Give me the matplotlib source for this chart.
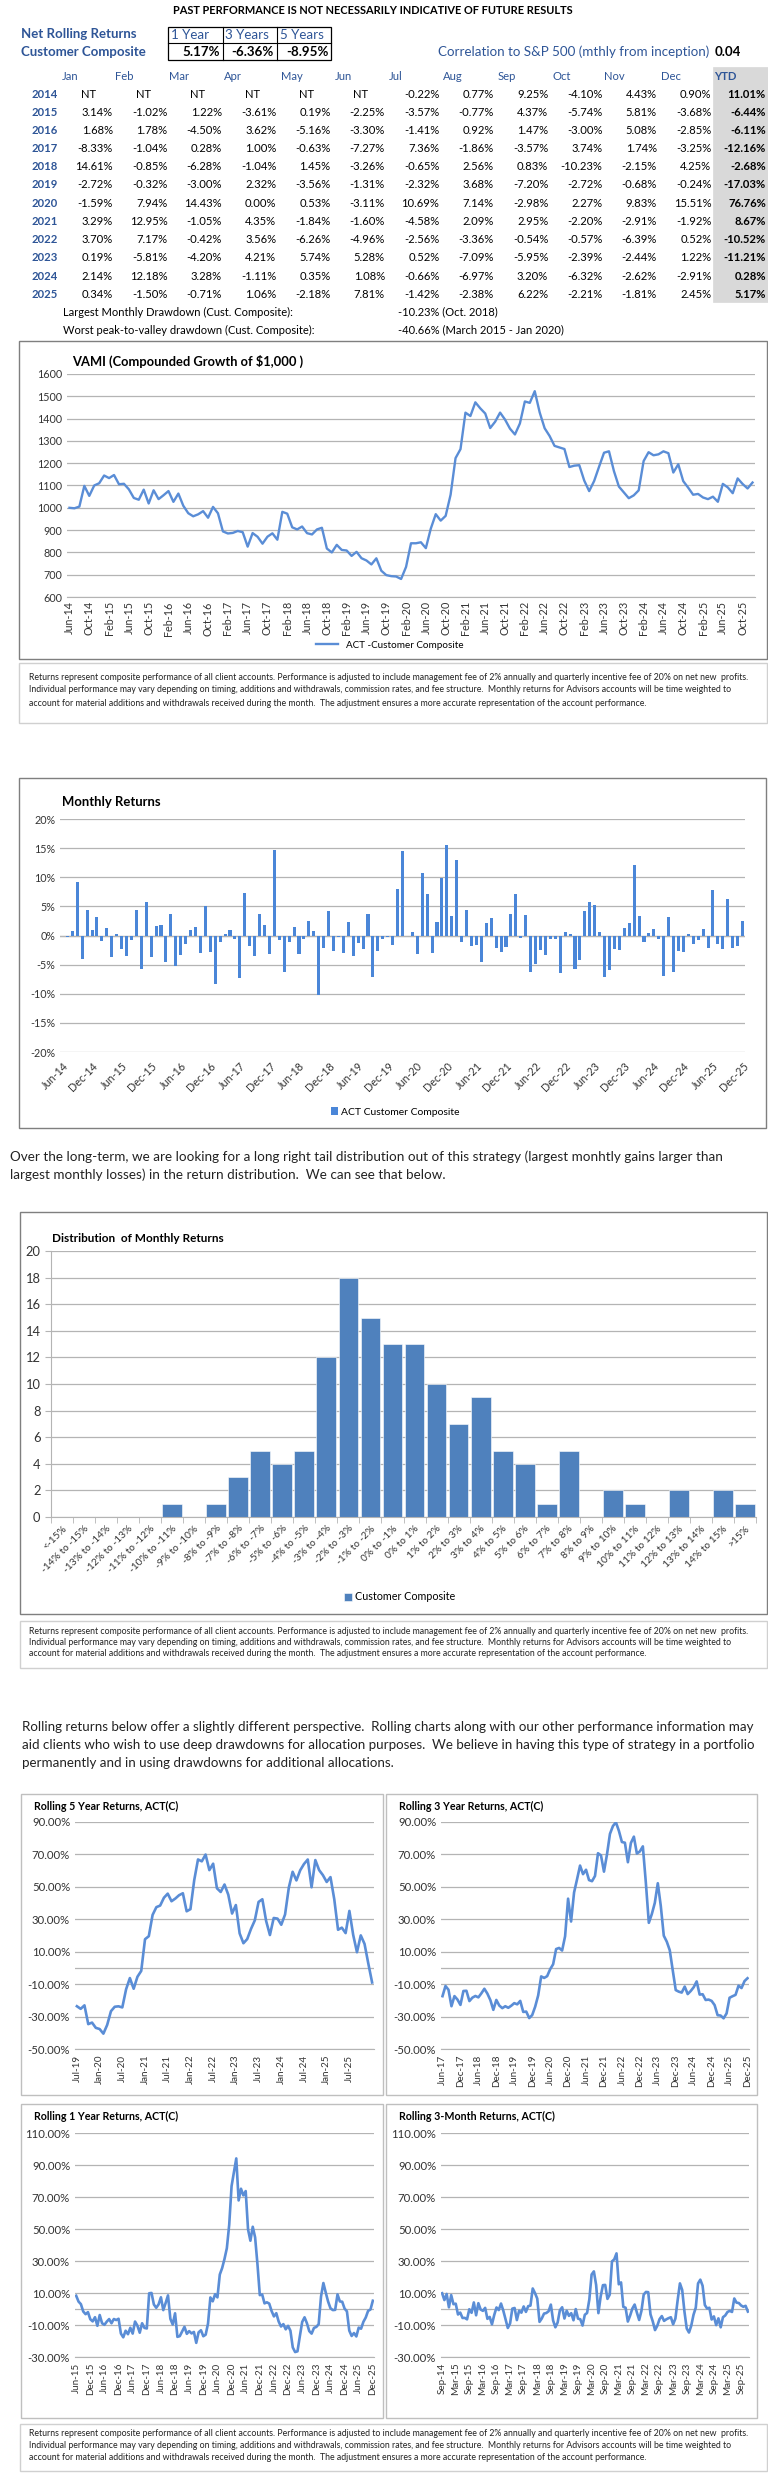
import numpy as np
import pandas as pd
import matplotlib
matplotlib.use("Agg")
import matplotlib.pyplot as plt
from matplotlib.patches import Rectangle
from matplotlib.lines import Line2D

W, H = 768, 2475
plt.rcParams['font.family'] = ['Lato', 'DejaVu Sans']

TXT_BLUE = '#2E5597'
LINE_BLUE = '#5A8DD6'
BAR_BLUE = '#4A86D8'
HIST_BLUE = '#4F81BD'
GRID = '#B4B4B4'
BOX = '#7F7F7F'

# ---------------- data ----------------
months = ['Jan', 'Feb', 'Mar', 'Apr', 'May', 'Jun', 'Jul', 'Aug', 'Sep', 'Oct', 'Nov', 'Dec']
years = [2014, 2015, 2016, 2017, 2018, 2019, 2020, 2021, 2022, 2023, 2024, 2025]
ret_2014 = [None, None, None, None, None, None, -0.22, 0.77, 9.25, -4.10, 4.43, 0.90]
ret_2015 = [3.14, -1.02, 1.22, -3.61, 0.19, -2.25, -3.57, -0.77, 4.37, -5.74, 5.81, -3.68]
ret_2016 = [1.68, 1.78, -4.50, 3.62, -5.16, -3.30, -1.41, 0.92, 1.47, -3.00, 5.08, -2.85]
ret_2017 = [-8.33, -1.04, 0.28, 1.00, -0.63, -7.27, 7.36, -1.86, -3.57, 3.74, 1.74, -3.25]
ret_2018 = [14.61, -0.85, -6.28, -1.04, 1.45, -3.26, -0.65, 2.56, 0.83, -10.23, -2.15, 4.25]
ret_2019 = [-2.72, -0.32, -3.00, 2.32, -3.56, -1.31, -2.32, 3.68, -7.20, -2.72, -0.68, -0.24]
ret_2020 = [-1.59, 7.94, 14.43, 0.00, 0.53, -3.11, 10.69, 7.14, -2.98, 2.27, 9.83, 15.51]
ret_2021 = [3.29, 12.95, -1.05, 4.35, -1.84, -1.60, -4.58, 2.09, 2.95, -2.20, -2.91, -1.92]
ret_2022 = [3.70, 7.17, -0.42, 3.56, -6.26, -4.96, -2.56, -3.36, -0.54, -0.57, -6.39, 0.52]
ret_2023 = [0.19, -5.81, -4.20, 4.21, 5.74, 5.28, 0.52, -7.09, -5.95, -2.39, -2.44, 1.22]
ret_2024 = [2.14, 12.18, 3.28, -1.11, 0.35, 1.08, -0.66, -6.97, 3.20, -6.32, -2.62, -2.91]
ret_2025 = [0.34, -1.50, -0.71, 1.06, -2.18, 7.81, -1.42, -2.38, 6.22, -2.21, -1.81, 2.45]
table = [ret_2014, ret_2015, ret_2016, ret_2017, ret_2018, ret_2019,
         ret_2020, ret_2021, ret_2022, ret_2023, ret_2024, ret_2025]
ytd = [11.01, -6.44, -6.11, -12.16, -2.68, -17.03, 76.76, 8.67, -10.52, -11.21, 0.28, 5.17]

roll_headers = ['1 Year', '3 Years', '5 Years']
roll_net = [5.17, -6.36, -8.95]
correlation = 0.04

hist_bins = ['<-15%', '-14% to -15%', '-13% to -14%', '-12% to -13%', '-11% to -12%',
             '-10% to -11%', '-9% to -10%', '-8% to -9%', '-7% to -8%', '-6% to -7%',
             '-5% to -6%', '-4% to -5%', '-3% to -4%', '-2% to -3%', '-1% to -2%',
             '0% to -1%', '0% to 1%', '1% to 2%', '2% to 3%', '3% to 4%', '4% to 5%',
             '5% to 6%', '6% to 7%', '7% to 8%', '8% to 9%', '9% to 10%', '10% to 11%',
             '11% to 12%', '12% to 13%', '13% to 14%', '14% to 15%', '>15%']
hist_counts = [0, 0, 0, 0, 0, 1, 0, 1, 3, 5, 4, 5, 12, 18, 15, 13, 13, 10, 7, 9, 5, 4,
               1, 5, 0, 2, 1, 0, 2, 0, 2, 1]

disclaimer = ["Returns represent composite performance of all client accounts. Performance is adjusted to include management fee of 2% annually and quarterly incentive fee of 20% on net new  profits.",
              "Individual performance may vary depending on timing, additions and withdrawals, commission rates, and fee structure.  Monthly returns for Advisors accounts will be time weighted to",
              "account for material additions and withdrawals received during the month.  The adjustment ensures a more accurate representation of the account performance."]
para1 = ['Over the long-term, we are looking for a long right tail distribution out of this strategy (largest monhtly gains larger than',
         'largest monthly losses) in the return distribution.  We can see that below.']
para2 = ['Rolling returns below offer a slightly different perspective.  Rolling charts along with our other performance information may',
         'aid clients who wish to use deep drawdowns for allocation purposes.  We believe in having this type of strategy in a portfolio',
         'permanently and in using drawdowns for additional allocations.']

# monthly series Jul-14 .. Dec-25, VAMI starts at Jun-14 = 1000
monthly = np.array([v for row in table for v in row if v is not None])
vami = 1000 * np.concatenate([[1.0], np.cumprod(1 + monthly / 100)])
month_labels = [p.strftime('%b-%y') for p in pd.period_range('2014-06', '2025-12', freq='M')]


def rolling(n):
    return (vami[n:] / vami[:-n] - 1) * 100


# ---------------- figure helpers ----------------
fig = plt.figure(figsize=(W / 100, H / 100), dpi=100)
R = fig.canvas.get_renderer()


def fit(s, width, weight='normal'):
    # font size (pt) that makes s about `width` pixels wide
    t = fig.text(0, 0, s, fontsize=10, fontweight=weight)
    w = t.get_window_extent(renderer=R).width
    t.remove()
    return 10 * width / w


def ftext(x, y, s, **kw):
    kw.setdefault('va', 'center')
    fig.text(x / W, 1 - y / H, s, **kw)


def fbox(x0, y0, x1, y1, ec=BOX, lw=1.0, fc=None):
    fig.patches.append(Rectangle((x0 / W, 1 - y1 / H), (x1 - x0) / W, (y1 - y0) / H,
                                 transform=fig.transFigure, fill=fc is not None,
                                 facecolor=fc, edgecolor=ec, linewidth=lw, zorder=0))


def fline(x0, y0, x1, y1, c='black', lw=0.8):
    fig.lines.append(Line2D([x0 / W, x1 / W], [1 - y0 / H, 1 - y1 / H],
                            transform=fig.transFigure, color=c, lw=lw))


def fax(x0, y0, x1, y1):
    return fig.add_axes([x0 / W, 1 - y1 / H, (x1 - x0) / W, (y1 - y0) / H])


def style_axes(ax, ysize, xsize):
    for s in ['top', 'right', 'left']:
        ax.spines[s].set_visible(False)
    ax.spines['bottom'].set_color(GRID)
    ax.yaxis.grid(True, color=GRID, lw=0.9)
    ax.set_axisbelow(True)
    ax.tick_params(axis='y', length=0, labelsize=ysize, colors='#333333')
    ax.tick_params(axis='x', length=0, labelsize=xsize, colors='#333333')


# ---------------- header + table ----------------
title = 'PAST PERFORMANCE IS NOT NECESSARILY INDICATIVE OF FUTURE RESULTS'
ftext(173, 10, title, fontsize=fit(title, 401, 'bold'), fontweight='bold')
fs_lbl = fit('Customer Composite', 125, 'bold')
ftext(21, 34, 'Net Rolling Returns', fontsize=fs_lbl, fontweight='bold', color=TXT_BLUE)
ftext(21, 52, 'Customer Composite', fontsize=fs_lbl, fontweight='bold', color=TXT_BLUE)

fbox(168, 27, 331, 60, ec='black', lw=0.9)
fline(168, 43, 331, 43)
fline(223, 27, 223, 60)
fline(277, 27, 277, 60)
fs_small = fit('1 Year', 38)
for hdr, val, xl, xr in zip(roll_headers, roll_net, [171, 225, 280], [220, 274, 329]):
    ftext(xl, 35, hdr, fontsize=fs_small, color=TXT_BLUE)
    ftext(xr, 52, f'{val:.2f}%', ha='right', fontsize=fs_small, fontweight='bold')

corr_txt = 'Correlation to S&P 500 (mthly from inception)'
fs_corr = fit(corr_txt, 272)
ftext(438, 52, corr_txt, fontsize=fs_corr, color=TXT_BLUE)
ftext(715, 52, f'{correlation:.2f}', fontsize=fs_corr, fontweight='bold')

fbox(713, 67, 768, 302, ec='#D9D9D9', lw=0.5, fc='#D9D9D9')
fs_tab = fit('-10.23%', 42)
head_x = [70, 124, 179, 233, 292, 343, 396, 453, 507, 562, 614, 671, 725]
for name, hx in zip(months + ['YTD'], head_x):
    ftext(hx, 76, name, ha='center', fontsize=fs_tab, color=TXT_BLUE,
          fontweight='bold' if name == 'YTD' else 'normal')
col_right = [113 + 54.4 * j for j in range(13)]
for i, (yr, row, yv) in enumerate(zip(years, table, ytd)):
    y = 94 + 18.2 * i
    ftext(45, y, str(yr), ha='center', fontsize=fs_tab, fontweight='bold', color=TXT_BLUE)
    for j, v in enumerate(row):
        if v is None:
            ftext(col_right[j] - 24, y, 'NT', ha='center', fontsize=fs_tab)
        else:
            ftext(col_right[j], y, f'{v:.2f}%', ha='right', fontsize=fs_tab)
    ftext(col_right[12], y, f'{yv:.2f}%', ha='right', fontsize=fs_tab, fontweight='bold')

dd1 = 'Largest Monthly Drawdown (Cust. Composite):'
fs_dd = fit(dd1, 229)
ftext(63, 312, dd1, fontsize=fs_dd)
ftext(398, 312, '-10.23% (Oct. 2018)', fontsize=fs_dd)
ftext(63, 330, 'Worst peak-to-valley drawdown (Cust. Composite):', fontsize=fs_dd)
ftext(398, 330, '-40.66% (March 2015 - Jan 2020)', fontsize=fs_dd)

fs_disc = fit(disclaimer[0], 716)
fs_para = fit(para1[0], 708)

# ---------------- VAMI ----------------
fbox(19, 341, 767, 659)
vt = 'VAMI (Compounded Growth of $1,000 )'
ftext(72, 361, vt, fontsize=fit(vt, 230, 'bold'), fontweight='bold')
ax = fax(67, 374, 755, 597)
x = np.arange(len(vami))
ax.plot(x, vami, color=LINE_BLUE, lw=1.7, label='ACT -Customer Composite')
ax.set_ylim(600, 1600)
ax.set_yticks(range(600, 1700, 100))
ax.set_xlim(-0.5, len(vami) - 0.5)
ax.set_xticks(x[::4])
ax.set_xticklabels(month_labels[::4], rotation=90)
fs_v = fit('1600', 25)
style_axes(ax, fs_v, fs_v)
ax.tick_params(axis='x', pad=3)
ax.legend(loc='center', bbox_to_anchor=(390 / W, 1 - 645 / H), bbox_transform=fig.transFigure,
          frameon=False, fontsize=fit('ACT -Customer Composite', 118), handlelength=2.2)

fbox(19, 663, 767, 723, ec='#D0D0D0')
for k, line in enumerate(disclaimer):
    ftext(29, 677 + 13 * k, line, fontsize=fs_disc, color='#222222')

# ---------------- Monthly returns ----------------
fbox(19, 778, 766, 1128)
ftext(62, 802, 'Monthly Returns', fontsize=fit('Monthly Returns', 99, 'bold'), fontweight='bold')
ax = fax(60, 819, 745, 1052)
xm = np.arange(1, len(monthly) + 1)
ax.bar(xm, monthly / 100, width=0.62, color=BAR_BLUE, label='ACT Customer Composite')
yt = np.arange(-0.20, 0.21, 0.05)
ax.set_ylim(-0.20, 0.20)
ax.set_yticks(yt)
ax.set_yticklabels([f'{int(round(t * 100))}%' for t in yt])
ax.set_xlim(-0.5, len(monthly) + 0.5)
ax.set_xticks(np.arange(0, len(monthly) + 1, 6))
ax.set_xticklabels(month_labels[::6], rotation=45, ha='right', rotation_mode='anchor')
fs_m = fit('-10%', 25)
style_axes(ax, fs_m, fs_m)
ax.spines['bottom'].set_visible(False)
ax.axhline(0, color=GRID, lw=0.9, zorder=0)
ax.tick_params(axis='x', pad=6)
ax.legend(loc='center', bbox_to_anchor=(395 / W, 1 - 1112 / H), bbox_transform=fig.transFigure,
          frameon=False, fontsize=fit('ACT Customer Composite', 120),
          handlelength=0.7, handleheight=0.7, handletextpad=0.3)

for k, line in enumerate(para1):
    ftext(10, 1157 + 18 * k, line, fontsize=fs_para, color='#222222')

# ---------------- Distribution ----------------
fbox(20, 1212, 767, 1614)
dt = 'Distribution  of Monthly Returns'
ftext(52, 1238, dt, fontsize=fit(dt, 171, 'bold'), fontweight='bold')
ax = fax(51, 1251, 756, 1517)
xh = np.arange(len(hist_bins))
ax.bar(xh, hist_counts, width=0.9, color=HIST_BLUE, edgecolor='white', lw=0.4,
       label='Customer Composite')
ax.set_ylim(0, 20)
ax.set_yticks(range(0, 21, 2))
ax.set_xlim(-0.5, len(hist_bins) - 0.5)
ax.set_xticks(xh)
ax.set_xticklabels(hist_bins, rotation=45, ha='right', rotation_mode='anchor')
ax.set_xticks(np.arange(-0.5, len(hist_bins), 1), minor=True)
style_axes(ax, fit('20', 15), fit('-14% to -15%', 62))
ax.spines['left'].set_visible(True)
ax.spines['left'].set_color(GRID)
ax.tick_params(axis='x', which='minor', length=4, color=GRID)
ax.tick_params(axis='y', length=4, color=GRID)
ax.tick_params(axis='x', which='major', pad=5)
ax.legend(loc='center', bbox_to_anchor=(400 / W, 1 - 1597 / H), bbox_transform=fig.transFigure,
          frameon=False, fontsize=fit('Customer Composite', 101),
          handlelength=0.7, handleheight=0.7, handletextpad=0.3)

fbox(20, 1621, 767, 1668, ec='#D0D0D0')
for k, line in enumerate(disclaimer):
    ftext(29, 1631 + 11.5 * k, line, fontsize=fs_disc, color='#222222')

fs_para2 = fit(para2[0], 730)
for k, line in enumerate(para2):
    ftext(22, 1727 + 18 * k, line, fontsize=fs_para2, color='#222222')

# ---------------- Rolling charts ----------------
panels = [
    ('Rolling 5 Year Returns, ACT(C)', 60, 61, (21, 1794, 383, 2095), (75, 1822, 374, 2049), -50, 90),
    ('Rolling 3 Year Returns, ACT(C)', 36, 36, (386, 1794, 757, 2095), (441, 1822, 749, 2049), -50, 90),
    ('Rolling 1 Year Returns, ACT(C)', 12, 12, (21, 2104, 383, 2418), (75, 2133, 374, 2357), -30, 110),
    ('Rolling 3-Month Returns, ACT(C)', 3, 3, (386, 2104, 757, 2418), (441, 2133, 749, 2357), -30, 110),
]
fs_rt = fit('Rolling 5 Year Returns, ACT(C)', 144, 'bold')
fs_ry = fit('90.00%', 38)
fs_rx = fit('Jul-19', 27)
for name, n, lab0, box, area, lo, hi in panels:
    fbox(*box, ec='#BFBFBF')
    ftext(box[0] + 13, box[1] + 12, name, fontsize=fs_rt, fontweight='bold')
    ax = fax(*area)
    vals = rolling(n) / 100
    xr = np.arange(len(vals))
    ax.plot(xr, vals, color=LINE_BLUE, lw=1.9)
    ax.set_ylim(lo / 100, hi / 100)
    ticks = np.arange(lo, hi + 1, 20) / 100
    ax.set_yticks(ticks)
    ax.set_yticklabels([f'{t * 100:.2f}%' for t in ticks])
    ax.set_xlim(-0.5, len(vals) - 0.5)
    labs = month_labels[lab0::6]
    ax.set_xticks(np.arange(0, len(labs) * 6, 6))
    ax.set_xticklabels(labs, rotation=90)
    style_axes(ax, fs_ry, fs_rx)
    ax.axhline(0, color=GRID, lw=0.9, zorder=0)
    ax.tick_params(axis='x', pad=4)

fbox(20, 2424, 767, 2471, ec='#D0D0D0')
for k, line in enumerate(disclaimer):
    ftext(29, 2434 + 11.5 * k, line, fontsize=fs_disc, color='#222222')

fig.savefig('out.png', dpi=100, facecolor='white')
